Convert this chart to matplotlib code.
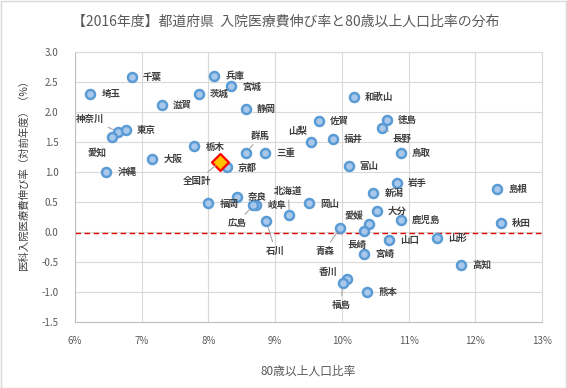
import matplotlib
matplotlib.use("Agg")
import matplotlib.pyplot as plt
from matplotlib.patches import Rectangle

plt.rcParams['font.family'] = ['Noto Sans CJK JP', 'DejaVu Sans']

# データ（80歳以上人口比率 %, 入院医療費伸び率 %）
prefs = ['千葉', '兵庫', '宮城', '埼玉', '茨城', '滋賀', '静岡', '神奈川', '東京', '愛知',
         '沖縄', '大阪', '栃木', '群馬', '京都', '和歌山', '佐賀', '徳島', '長野', '山梨',
         '福井', '三重', '鳥取', '富山', '岩手', '新潟', '奈良', '福岡', '岐阜', '広島',
         '北海道', '石川', '岡山', '青森', '大分', '愛媛', '長崎', '鹿児島', '山口', '宮崎',
         '香川', '福島', '熊本', '島根', '秋田', '山形', '高知']
ratio80 = [6.85, 8.09, 8.34, 6.23, 7.86, 7.30, 8.56, 6.65, 6.76, 6.56,
           6.47, 7.16, 7.79, 8.56, 8.28, 10.18, 9.66, 10.67, 10.60, 9.53,
           9.86, 8.85, 10.88, 10.10, 10.82, 10.47, 8.43, 8.00, 8.72, 8.67,
           9.21, 8.87, 9.51, 9.97, 10.52, 10.41, 10.33, 10.88, 10.70, 10.33,
           10.08, 10.01, 10.38, 12.33, 12.38, 11.42, 11.79]
growth = [2.58, 2.60, 2.42, 2.30, 2.30, 2.11, 2.05, 1.66, 1.70, 1.57,
          1.00, 1.21, 1.42, 1.31, 1.07, 2.24, 1.85, 1.86, 1.73, 1.49,
          1.55, 1.31, 1.31, 1.10, 0.81, 0.65, 0.58, 0.47, 0.44, 0.44,
          0.28, 0.17, 0.47, 0.06, 0.35, 0.13, 0.01, 0.19, -0.14, -0.38,
          -0.79, -0.86, -1.01, 0.71, 0.15, -0.11, -0.55]
national_x, national_y = 8.17, 1.16
national_line = -0.03

# ラベル位置を個別に指定するもの（データ座標, 引出線の有無）
custom = {
    '神奈川': (6.23, 1.88, True),
    '愛知': (6.33, 1.31, False),
    '群馬': (8.78, 1.60, True),
    '山梨': (9.33, 1.68, False),
    '長野': (10.90, 1.55, True),
    '広島': (8.43, 0.14, True),
    '北海道': (9.20, 0.68, True),
    '石川': (9.00, -0.32, True),
    '愛媛': (10.18, 0.25, False),
    '青森': (9.74, -0.32, True),
    '長崎': (10.22, -0.22, False),
    '香川': (9.80, -0.67, False),
    '福島': (9.99, -1.22, True),
}

fig = plt.figure(figsize=(5.67, 3.88), dpi=100)
ax = fig.add_axes([0.1323, 0.1709, 0.8237, 0.6959])

ax.axhline(national_line, color='#e00000', lw=1.0, ls=(0, (4, 2.5)), zorder=2)

ax.scatter(ratio80, growth, s=42, facecolor='#a9c9ec', edgecolor='#5b9bd5',
           linewidths=1.8, zorder=4)
ax.scatter([national_x], [national_y], s=75, marker='D', facecolor='#ffc000',
           edgecolor='#ff0000', linewidths=1.6, zorder=5)

lab_kw = dict(fontsize=6.8, color='#404040', fontweight='bold', zorder=6)
leader = dict(arrowstyle='-', color='#a6a6a6', lw=0.8, shrinkA=1, shrinkB=4)

for name, x, y in zip(prefs, ratio80, growth):
    if name in custom:
        tx, ty, line = custom[name]
        ax.annotate(name, (x, y), xytext=(tx, ty), ha='center', va='center',
                    arrowprops=leader if line else None, **lab_kw)
    else:
        ax.annotate(name, (x, y), xytext=(8, 0), textcoords='offset points',
                    ha='left', va='center', **lab_kw)

ax.annotate('全国計', (national_x, national_y), xytext=(7.83, 0.85), ha='center',
            va='center', arrowprops=leader, **lab_kw)

ax.set_xlim(6, 13)
ax.set_ylim(-1.5, 3.0)
ax.set_xticks(range(6, 14))
ax.set_xticklabels([f'{v}%' for v in range(6, 14)])
yt = [-1.5, -1.0, -0.5, 0.0, 0.5, 1.0, 1.5, 2.0, 2.5, 3.0]
ax.set_yticks(yt)
ax.set_yticklabels([f'{v:.1f}' for v in yt])
ax.tick_params(length=0, labelsize=7, labelcolor='#595959')
ax.tick_params(axis='x', pad=10)
ax.tick_params(axis='y', pad=12)
ax.grid(True, color='#d9d9d9', lw=0.8)
ax.set_axisbelow(True)
for s in ax.spines.values():
    s.set_color('#d9d9d9')
ax.spines['left'].set_color('#bfbfbf')
ax.spines['bottom'].set_color('#bfbfbf')

ax.set_xlabel('80歳以上人口比率', fontsize=8.5, color='#595959')
ax.xaxis.set_label_coords(0.5, -0.16)
ax.set_ylabel('医科入院医療費伸び率（対前年度）（%）', fontsize=7.5, color='#404040')
ax.yaxis.set_label_coords(-0.10, 0.55)
fig.text(0.504, 0.943, '【2016年度】都道府県  入院医療費伸び率と80歳以上人口比率の分布',
         fontsize=10, color='#595959', ha='center', va='center')

fig.patches.append(Rectangle((0.001, 0.001), 0.997, 0.997, transform=fig.transFigure,
                             fill=False, edgecolor='#d9d9d9', lw=1))

fig.savefig('out.png', dpi=100)
